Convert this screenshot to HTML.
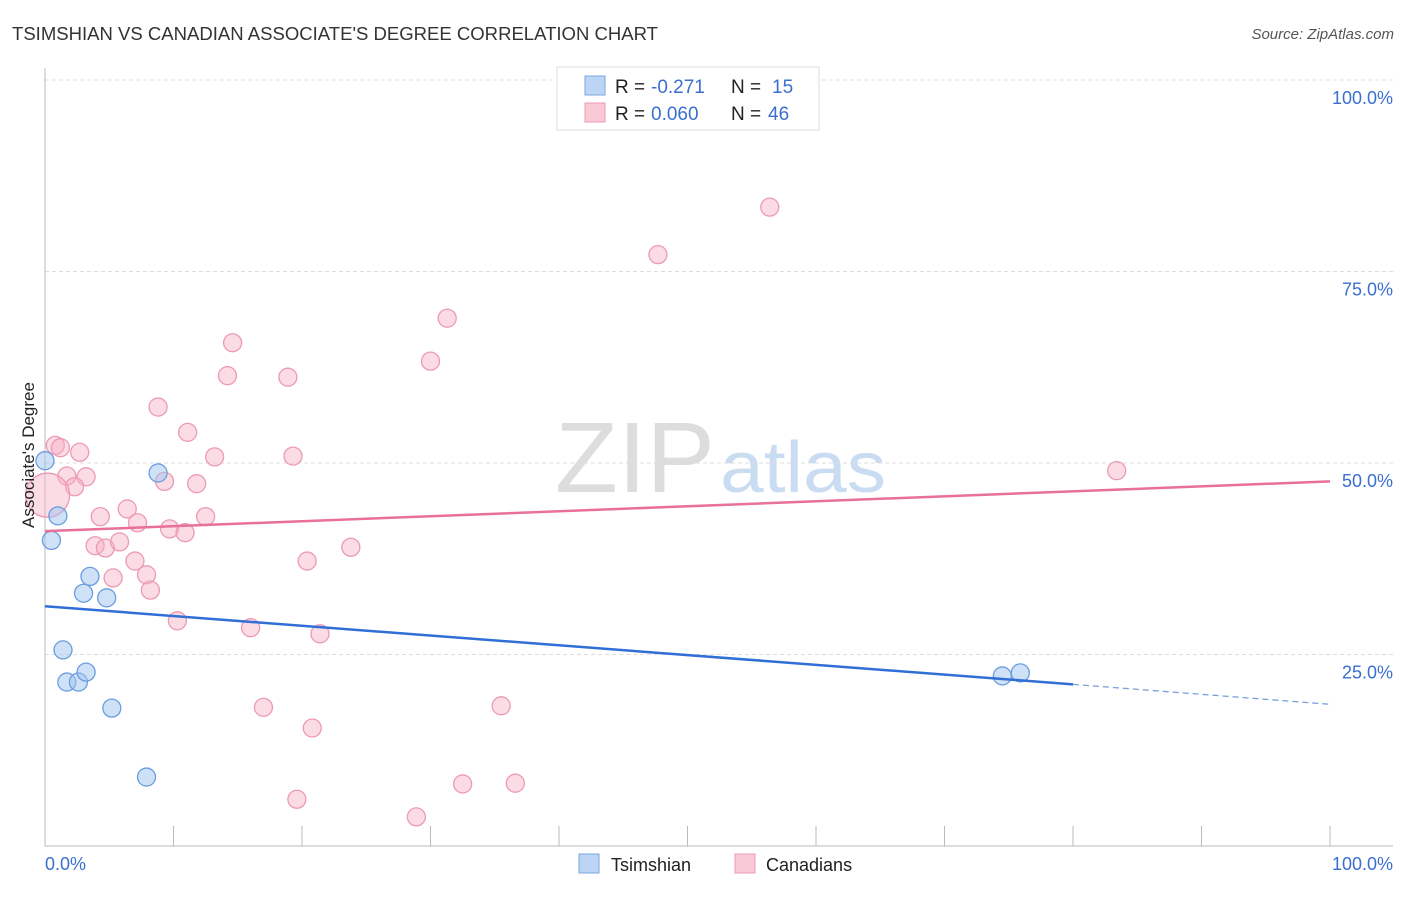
<!DOCTYPE html>
<html><head><meta charset="utf-8"><style>
body{margin:0;background:#fff;font-family:"Liberation Sans",sans-serif}
svg text{font-family:"Liberation Sans",sans-serif}
</style></head><body>
<svg width="1406" height="892" xmlns="http://www.w3.org/2000/svg">
<text x="12" y="40" font-size="18" fill="#333" textLength="646" lengthAdjust="spacingAndGlyphs">TSIMSHIAN VS CANADIAN ASSOCIATE'S DEGREE CORRELATION CHART</text>
<text x="1394" y="39" font-size="15" fill="#555" font-style="italic" text-anchor="end">Source: ZipAtlas.com</text>
<text x="555" y="492" font-size="100" fill="#ddd" textLength="160" lengthAdjust="spacingAndGlyphs" font-family="Liberation Serif">ZIP</text>
<text x="720" y="492" font-size="72" fill="#c9dcf2" textLength="166" lengthAdjust="spacingAndGlyphs">atlas</text>
<g id="grid"></g>
<g id="axes"></g>
<g id="marks"></g>
<text transform="translate(34,455) rotate(-90)" font-size="17" fill="#222" text-anchor="middle">Associate's Degree</text>
<g>
<rect x="557" y="67" width="262" height="63" fill="#fff" stroke="#ddd"/>
<rect x="585" y="76" width="20" height="19" fill="#bcd5f5" stroke="#7aa6e0"/>
<rect x="585" y="103" width="20" height="19" fill="#f9c9d6" stroke="#eb9ab3"/>
<text x="615" y="93" font-size="19" fill="#222">R =</text>
<text x="651" y="93" font-size="19" fill="#3a6fd0">-0.271</text>
<text x="731" y="93" font-size="19" fill="#222">N =</text>
<text x="772" y="93" font-size="19" fill="#3a6fd0">15</text>
<text x="615" y="120" font-size="19" fill="#222">R =</text>
<text x="651" y="120" font-size="19" fill="#3a6fd0">0.060</text>
<text x="731" y="120" font-size="19" fill="#222">N =</text>
<text x="768" y="120" font-size="19" fill="#3a6fd0">46</text>
</g>
<g>
<rect x="579" y="854" width="20" height="19" fill="#bcd5f5" stroke="#7aa6e0"/>
<text x="611" y="871" font-size="18" fill="#222">Tsimshian</text>
<rect x="735" y="854" width="20" height="19" fill="#f9c9d6" stroke="#eb9ab3"/>
<text x="766" y="871" font-size="18" fill="#222">Canadians</text>
</g>
</svg>
<script>
const yTicks=[25,50,75,100];
const yTickLabels=["25.0%","50.0%","75.0%","100.0%"];
const xTickLabels=["0.0%","100.0%"];
const blueX=[0,1.0,0.5,3.5,3.0,4.8,1.4,1.7,2.6,3.2,5.2,7.9,8.8,74.5,75.9];
const blueY=[50.3,43.1,39.9,35.2,33.0,32.4,25.6,21.4,21.4,22.7,18.0,9.0,48.7,22.2,22.6];
const pinkX=[0.8,1.2,2.7,1.7,3.2,2.3,0.2,4.3,6.4,7.2,3.9,4.7,5.8,7.0,5.3,7.9,8.2,8.8,9.3,11.1,11.8,12.5,13.2,9.7,10.9,10.3,14.2,14.6,16.0,17.0,18.9,19.3,20.4,20.8,21.4,19.6,23.8,28.9,30.0,31.3,32.5,35.5,36.6,47.7,56.4,83.4];
const pinkY=[52.3,52.0,51.4,48.3,48.2,46.9,45.8,43.0,44.0,42.2,39.2,38.9,39.7,37.2,35.0,35.4,33.4,57.3,47.6,54.0,47.3,43.0,50.8,41.4,40.9,29.4,61.4,65.7,28.5,18.1,61.2,50.9,37.2,15.4,27.7,6.1,39.0,3.8,63.3,68.9,8.1,18.3,8.2,77.2,83.4,49.0];
const pinkR=[9,9,9,9,9,9,22,9,9,9,9,9,9,9,9,9,9,9,9,9,9,9,9,9,9,9,9,9,9,9,9,9,9,9,9,9,9,9,9,9,9,9,9,9,9,9];
const blueTrend=[31.3,21.1,18.5]; // at x=0, 80, 100
const pinkTrend=[41.1,47.6]; // at x=0, 100
const NS="http://www.w3.org/2000/svg";
const X=v=>45+v*12.85, Y=v=>846-v*7.66;
function mk(t,a,p){const e=document.createElementNS(NS,t);for(const k in a)e.setAttribute(k,a[k]);p.appendChild(e);return e;}
const grid=document.getElementById('grid'),axes=document.getElementById('axes'),marks=document.getElementById('marks');
yTicks.forEach((t,i)=>{
 const l=mk('line',{x1:45,x2:1393,y1:Y(t),y2:Y(t),stroke:'#ddd','stroke-dasharray':'4,3'},grid);
 
 
 const tx=mk('text',{x:1393,y:Y(t)+24,'font-size':18,fill:'#3a6fd0','text-anchor':'end'},grid);
 tx.textContent=yTickLabels[i];
 
 
});
let a=mk('line',{x1:45,x2:45,y1:68,y2:846,stroke:'#bbb'},axes);


a=mk('line',{x1:45,x2:1393,y1:846,y2:846,stroke:'#bbb'},axes);


for(let i=0;i<=10;i++){const t=mk('line',{x1:X(i*10),x2:X(i*10),y1:826,y2:846,stroke:'#bbb'},axes);
 
 }
[[0,'start',45],[1,'end',1393]].forEach(([i,an,x])=>{const t=mk('text',{x:x,y:870,'font-size':18,fill:'#3a6fd0','text-anchor':an},axes);t.textContent=xTickLabels[i];
 
 });
pinkX.forEach((x,i)=>{const c=mk('circle',{cx:X(x),cy:Y(pinkY[i]),r:pinkR[i],fill:'rgba(246,178,198,0.45)',stroke:'#ec9ab3','stroke-width':1.3},marks);
 
 });
blueX.forEach((x,i)=>{const c=mk('circle',{cx:X(x),cy:Y(blueY[i]),r:9,fill:'rgba(160,196,240,0.5)',stroke:'#6a9ee0','stroke-width':1.3},marks);
 
 });
let t=mk('line',{x1:X(0),y1:Y(pinkTrend[0]),x2:X(100),y2:Y(pinkTrend[1]),stroke:'#e8709a','stroke-width':2.5},marks);


t=mk('line',{x1:X(0),y1:Y(blueTrend[0]),x2:X(80),y2:Y(blueTrend[1]),stroke:'#2f6fd6','stroke-width':2.5},marks);


t=mk('line',{x1:X(80),y1:Y(blueTrend[1]),x2:X(100),y2:Y(blueTrend[2]),stroke:'#7aa0dc','stroke-width':1.3,'stroke-dasharray':'6,4'},marks);


</script>
</body></html>
